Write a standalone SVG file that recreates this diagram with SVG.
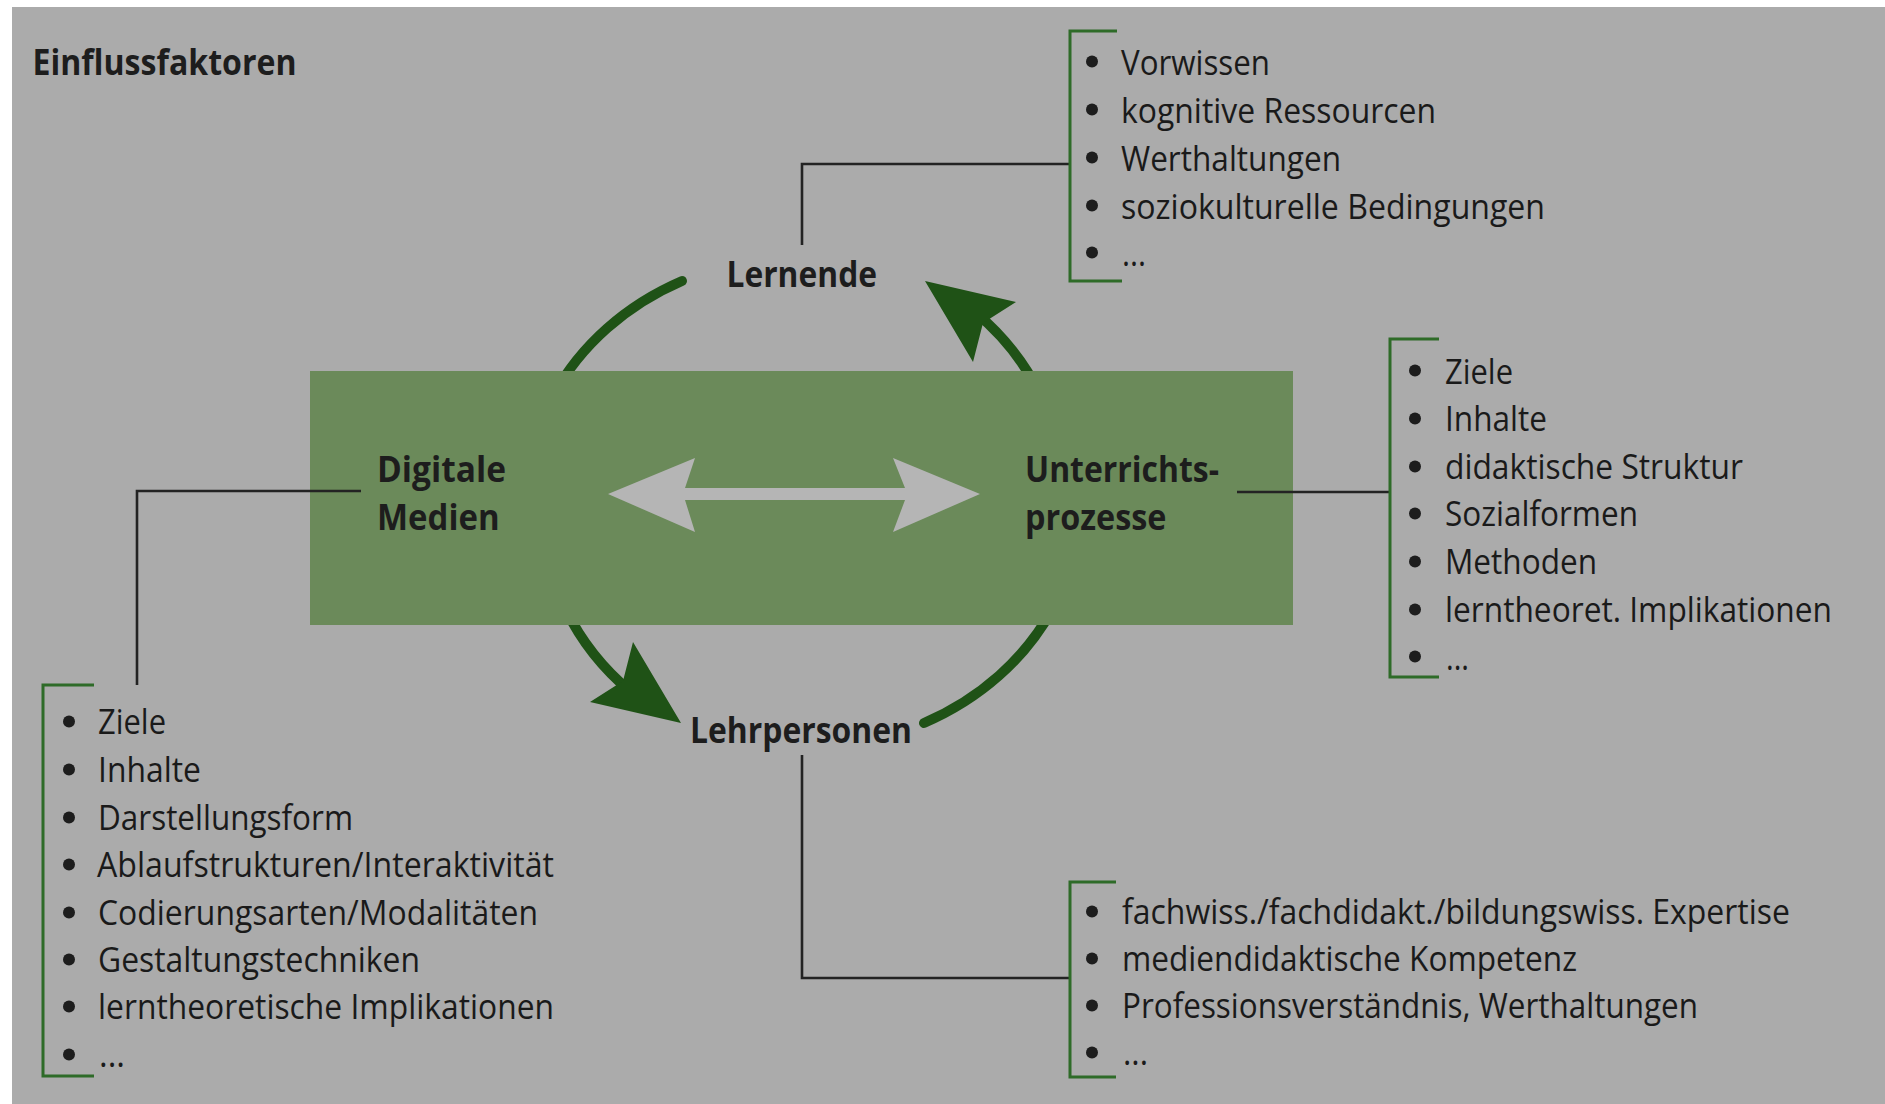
<svg xmlns="http://www.w3.org/2000/svg" width="1885" height="1104" viewBox="0 0 1885 1104">
<style>
.lbl{font-family:"Open Sans","Noto Sans",sans-serif;font-weight:700;font-size:36px;fill:#1d1d1d}
.item{font-family:"Open Sans","Noto Sans",sans-serif;font-size:35px;fill:#1a1a1a}
.brk{fill:none;stroke:#2e6b28;stroke-width:3}
.con{fill:none;stroke:#232323;stroke-width:2.6}
.arc{fill:none;stroke:#1f5216;stroke-width:10;stroke-linecap:round}
.shaft{fill:none;stroke:#1f5216;stroke-width:10;stroke-linecap:butt}
.head{fill:#1f5216}
.dot{fill:#1d1d1d}
</style>
<rect x="0" y="0" width="1885" height="1104" fill="#ffffff"/>
<rect x="12" y="7" width="1873" height="1097" fill="#ababab"/>

<g id="title">
<text class="lbl" x="32.5" y="74.5" textLength="264" lengthAdjust="spacingAndGlyphs">Einflussfaktoren</text>
</g>

<g id="cycle">
<path class="arc" d="M 553.5 395 A 277 246.5 0 0 1 682 281"/>
<path class="arc" d="M 1052.5 609 A 277 246.5 0 0 1 924 723"/>
<path class="shaft" d="M 1040.5 395 A 263 249.4 0 0 0 975 312"/>
<polygon class="head" points="925,281 1016,302 983,323 973,362"/>
<path class="shaft" d="M 565.5 609 A 263 249.4 0 0 0 631 692"/>
<polygon class="head" points="681,723 590,702 623,681 633,642"/>
</g>

<g id="center-box">
<rect x="310" y="371" width="983" height="254" fill="#6b8a5a"/>
<polygon fill="#b5b5b5" points="608,494 695,458 685,488 905,488 893,458 980,494 893,532 905,500 685,500 695,532"/>
</g>

<g id="node-digitale-medien">
<text class="lbl" x="377" y="482" textLength="129" lengthAdjust="spacingAndGlyphs">Digitale</text>
<text class="lbl" x="377" y="530" textLength="122.6" lengthAdjust="spacingAndGlyphs">Medien</text>
</g>

<g id="node-unterrichtsprozesse">
<text class="lbl" x="1025" y="482" textLength="194" lengthAdjust="spacingAndGlyphs">Unterrichts-</text>
<text class="lbl" x="1025" y="530" textLength="141.5" lengthAdjust="spacingAndGlyphs">prozesse</text>
</g>

<g id="node-lernende">
<text class="lbl" x="726.5" y="286.5" textLength="150.5" lengthAdjust="spacingAndGlyphs">Lernende</text>
</g>

<g id="node-lehrpersonen">
<text class="lbl" x="690" y="743" textLength="222" lengthAdjust="spacingAndGlyphs">Lehrpersonen</text>
</g>

<g id="connectors">
<path class="con" d="M 802 245 V 164 H 1070"/>
<path class="con" d="M 361 491 H 137 V 685"/>
<path class="con" d="M 1237 492 H 1390"/>
<path class="con" d="M 802 755 V 978 H 1070"/>
</g>

<g id="list-lernende">
<path class="brk" d="M 1117 31 H 1070 V 281 H 1122"/>
<circle class="dot" cx="1092" cy="61.5" r="6"/>
<circle class="dot" cx="1092" cy="109.5" r="6"/>
<circle class="dot" cx="1092" cy="157.5" r="6"/>
<circle class="dot" cx="1092" cy="205.5" r="6"/>
<circle class="dot" cx="1092" cy="252.5" r="6"/>
<text class="item" x="1121" y="74.5" textLength="149" lengthAdjust="spacingAndGlyphs">Vorwissen</text>
<text class="item" x="1121" y="122.5" textLength="315" lengthAdjust="spacingAndGlyphs">kognitive Ressourcen</text>
<text class="item" x="1121" y="170.5" textLength="220" lengthAdjust="spacingAndGlyphs">Werthaltungen</text>
<text class="item" x="1121" y="218.5" textLength="424" lengthAdjust="spacingAndGlyphs">soziokulturelle Bedingungen</text>
<text class="item" x="1122" y="265.5" textLength="24" lengthAdjust="spacingAndGlyphs">...</text>
</g>

<g id="list-unterricht">
<path class="brk" d="M 1439 339 H 1390 V 677 H 1439"/>
<circle class="dot" cx="1415" cy="370.5" r="6"/>
<circle class="dot" cx="1415" cy="418.5" r="6"/>
<circle class="dot" cx="1415" cy="466.5" r="6"/>
<circle class="dot" cx="1415" cy="513.5" r="6"/>
<circle class="dot" cx="1415" cy="561.5" r="6"/>
<circle class="dot" cx="1415" cy="609.5" r="6"/>
<circle class="dot" cx="1415" cy="656.5" r="6"/>
<text class="item" x="1445" y="383.5" textLength="68" lengthAdjust="spacingAndGlyphs">Ziele</text>
<text class="item" x="1445" y="431" textLength="102" lengthAdjust="spacingAndGlyphs">Inhalte</text>
<text class="item" x="1445" y="479" textLength="298" lengthAdjust="spacingAndGlyphs">didaktische Struktur</text>
<text class="item" x="1445" y="526" textLength="193" lengthAdjust="spacingAndGlyphs">Sozialformen</text>
<text class="item" x="1445" y="574" textLength="152" lengthAdjust="spacingAndGlyphs">Methoden</text>
<text class="item" x="1445" y="622" textLength="387" lengthAdjust="spacingAndGlyphs">lerntheoret. Implikationen</text>
<text class="item" x="1446" y="669.5" textLength="23" lengthAdjust="spacingAndGlyphs">...</text>
</g>

<g id="list-medien">
<path class="brk" d="M 94 685 H 43 V 1076 H 94"/>
<circle class="dot" cx="69" cy="721.5" r="6"/>
<circle class="dot" cx="69" cy="769.5" r="6"/>
<circle class="dot" cx="69" cy="817.5" r="6"/>
<circle class="dot" cx="69" cy="864.5" r="6"/>
<circle class="dot" cx="69" cy="912.5" r="6"/>
<circle class="dot" cx="69" cy="959.5" r="6"/>
<circle class="dot" cx="69" cy="1006.5" r="6"/>
<circle class="dot" cx="69" cy="1054.5" r="6"/>
<text class="item" x="98" y="734" textLength="68" lengthAdjust="spacingAndGlyphs">Ziele</text>
<text class="item" x="98" y="782" textLength="103" lengthAdjust="spacingAndGlyphs">Inhalte</text>
<text class="item" x="98" y="830" textLength="255" lengthAdjust="spacingAndGlyphs">Darstellungsform</text>
<text class="item" x="97" y="877" textLength="457" lengthAdjust="spacingAndGlyphs">Ablaufstrukturen/Interaktivität</text>
<text class="item" x="98" y="925" textLength="440" lengthAdjust="spacingAndGlyphs">Codierungsarten/Modalitäten</text>
<text class="item" x="98" y="972" textLength="322" lengthAdjust="spacingAndGlyphs">Gestaltungstechniken</text>
<text class="item" x="98" y="1019" textLength="456" lengthAdjust="spacingAndGlyphs">lerntheoretische Implikationen</text>
<text class="item" x="99" y="1067" textLength="26" lengthAdjust="spacingAndGlyphs">...</text>
</g>

<g id="list-lehrpersonen">
<path class="brk" d="M 1116 882 H 1070 V 1077 H 1116"/>
<circle class="dot" cx="1092" cy="911.5" r="6"/>
<circle class="dot" cx="1092" cy="958.5" r="6"/>
<circle class="dot" cx="1092" cy="1005.5" r="6"/>
<circle class="dot" cx="1092" cy="1052.5" r="6"/>
<text class="item" x="1122" y="924" textLength="668" lengthAdjust="spacingAndGlyphs">fachwiss./fachdidakt./bildungswiss. Expertise</text>
<text class="item" x="1122" y="971" textLength="455" lengthAdjust="spacingAndGlyphs">mediendidaktische Kompetenz</text>
<text class="item" x="1122" y="1018" textLength="576" lengthAdjust="spacingAndGlyphs">Professionsverständnis, Werthaltungen</text>
<text class="item" x="1123" y="1065" textLength="25" lengthAdjust="spacingAndGlyphs">...</text>
</g>
</svg>
